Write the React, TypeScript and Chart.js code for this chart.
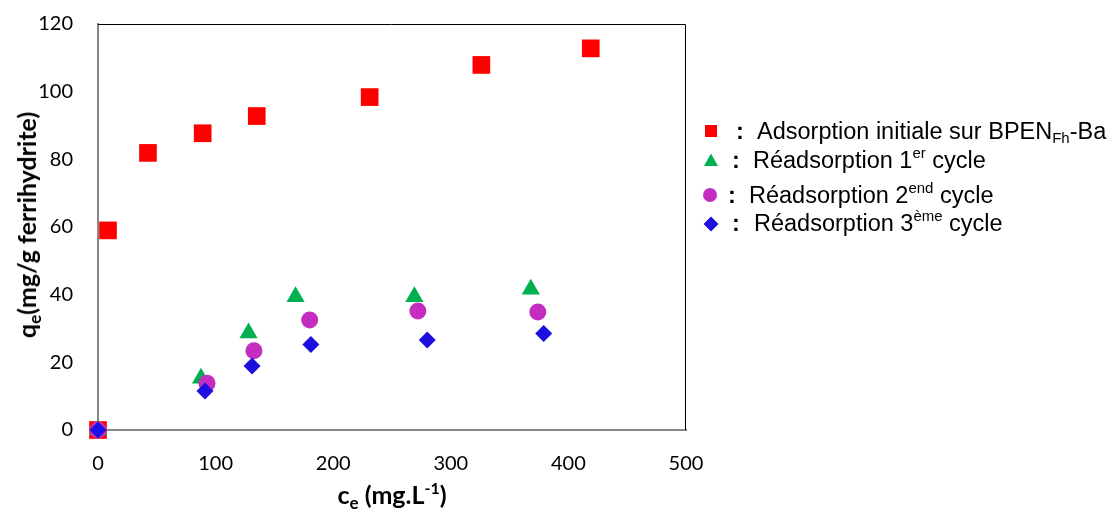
import React, { useEffect, useRef } from "react";
import { Chart, registerables } from "chart.js";

Chart.register(...registerables);

// ---- data ----
const xTickValues = [0, 100, 200, 300, 400, 500];
const yTickValues = [0, 20, 40, 60, 80, 100, 120];

const initialX = [0, 8.5, 42.5, 89, 135, 231, 326, 419];
const initialY = [0, 59.0, 81.9, 87.7, 92.8, 98.4, 107.9, 112.8];

const cycle1X = [0, 87.6, 128, 168, 269, 368];
const cycle1Y = [0, 15.3, 28.7, 39.4, 39.4, 41.6];

const cycle2X = [0, 92.7, 132.6, 180, 272, 374];
const cycle2Y = [0, 13.8, 23.4, 32.5, 35.2, 34.9];

const cycle3X = [0, 91, 131, 181, 280, 379];
const cycle3Y = [0, 11.5, 18.9, 25.3, 26.6, 28.5];

const RED = "#FF0000";
const GREEN = "#00B050";
const MAGENTA = "#C42DC0";
const BLUE = "#1E0FE1";

const toPoints = (xs: number[], ys: number[]) => xs.map((x, i) => ({ x, y: ys[i] }));

const AREA = { left: 98, right: 686, top: 24, bottom: 430 };

const frameBorder = {
  id: "frameBorder",
  beforeDatasetsDraw(chart: any) {
    const { ctx, chartArea } = chart;
    ctx.save();
    ctx.strokeStyle = "#000000";
    ctx.lineWidth = 1;
    ctx.beginPath();
    ctx.moveTo(chartArea.left, chartArea.top + 0.5);
    ctx.lineTo(chartArea.right - 0.5, chartArea.top + 0.5);
    ctx.lineTo(chartArea.right - 0.5, chartArea.bottom);
    ctx.stroke();
    ctx.restore();
  },
};

function Marker({ kind, color }: { kind: string; color: string }) {
  let shape: any = null;
  if (kind === "square") shape = <rect x={2} y={2} width={12} height={12} fill={color} />;
  if (kind === "triangle") shape = <polygon points="8,1.5 15,14 1,14" fill={color} />;
  if (kind === "circle") shape = <circle cx={8} cy={8} r={7} fill={color} />;
  if (kind === "diamond") shape = <polygon points="8,0.5 15.5,8 8,15.5 0.5,8" fill={color} />;
  return (
    <svg width={16} height={16} style={{ display: "block" }}>
      {shape}
    </svg>
  );
}

const legendFont = "'Liberation Sans', Arial, sans-serif";
const titleFont = "Lato, 'Open Sans', sans-serif";
const LEGEND_SIZE = 23.5;

function LegendRow({
  cy,
  markerX,
  markerY,
  kind,
  color,
  colonX,
  textX,
  children,
}: {
  cy: number;
  markerX: number;
  markerY: number;
  kind: string;
  color: string;
  colonX: number;
  textX: number;
  children: any;
}) {
  return (
    <>
      <div style={{ position: "absolute", left: markerX - 8, top: markerY - 8 }}>
        <Marker kind={kind} color={color} />
      </div>
      <div
        style={{
          position: "absolute",
          left: colonX,
          top: cy - 14,
          lineHeight: "28px",
          fontFamily: legendFont,
          fontSize: LEGEND_SIZE,
          fontWeight: "bold",
          color: "#000",
        }}
      >
        :
      </div>
      <div
        style={{
          position: "absolute",
          left: textX,
          top: cy - 14,
          lineHeight: "28px",
          fontFamily: legendFont,
          fontSize: LEGEND_SIZE,
          color: "#000",
          whiteSpace: "nowrap",
        }}
      >
        {children}
      </div>
    </>
  );
}

const supStyle: any = { fontSize: 15, verticalAlign: "10px", lineHeight: 0 };
const subStyle: any = { fontSize: 15, verticalAlign: "-4px", lineHeight: 0 };
const titleSubStyle: any = { fontSize: 17, verticalAlign: "-5px", lineHeight: 0 };
const titleSupStyle: any = { fontSize: 16, verticalAlign: "10px", lineHeight: 0 };

export default function App() {
  const canvasRef = useRef<HTMLCanvasElement | null>(null);

  useEffect(() => {
    document.body.style.margin = "0";
    const canvas = canvasRef.current;
    if (!canvas) return;
    const chart = new Chart(canvas, {
      type: "scatter",
      data: {
        datasets: [
          {
            label: "Réadsorption 3ème cycle",
            data: toPoints(cycle3X, cycle3Y),
            pointStyle: "rectRot",
            pointRadius: 8.5,
            backgroundColor: BLUE,
            borderColor: BLUE,
            borderWidth: 0,
            clip: false as any,
          },
          {
            label: "Réadsorption 2end cycle",
            data: toPoints(cycle2X, cycle2Y),
            pointStyle: "circle",
            pointRadius: 8.5,
            backgroundColor: MAGENTA,
            borderColor: MAGENTA,
            borderWidth: 0,
            clip: false as any,
          },
          {
            label: "Réadsorption 1er cycle",
            data: toPoints(cycle1X, cycle1Y),
            pointStyle: "triangle",
            pointRadius: 10.5,
            backgroundColor: GREEN,
            borderColor: GREEN,
            borderWidth: 0,
            clip: false as any,
          },
          {
            label: "Adsorption initiale sur BPENFh-Ba",
            data: toPoints(initialX, initialY),
            pointStyle: "rect",
            pointRadius: 12.5,
            backgroundColor: RED,
            borderColor: RED,
            borderWidth: 0,
            clip: false as any,
          },
        ],
      },
      options: {
        animation: false,
        responsive: false,
        devicePixelRatio: 1,
        layout: {
          padding: { left: 0, top: AREA.top, right: 1117 - AREA.right, bottom: 0 },
        },
        plugins: {
          legend: { display: false },
          tooltip: { enabled: false },
        },
        scales: {
          x: {
            type: "linear",
            min: 0,
            max: 500,
            afterBuildTicks: (scale: any) => {
              scale.ticks = xTickValues.map((v) => ({ value: v }));
            },
            afterFit: (scale: any) => {
              scale.height = 511 - AREA.bottom;
            },
            grid: {
              display: true,
              drawOnChartArea: false,
              drawTicks: true,
              tickLength: 22,
              tickColor: "rgba(0,0,0,0)",
            },
            border: { display: true, color: "#878787", width: 2 },
            ticks: {
              color: "#000",
              padding: 0,
              maxRotation: 0,
              font: { family: titleFont, size: 20 },
            },
          },
          y: {
            type: "linear",
            min: 0,
            max: 120,
            afterBuildTicks: (scale: any) => {
              scale.ticks = yTickValues.map((v) => ({ value: v }));
            },
            afterFit: (scale: any) => {
              scale.width = AREA.left;
            },
            grid: {
              display: true,
              drawOnChartArea: false,
              drawTicks: true,
              tickLength: 25,
              tickColor: "rgba(0,0,0,0)",
            },
            border: { display: true, color: "#878787", width: 2 },
            ticks: {
              color: "#000",
              padding: 0,
              font: { family: titleFont, size: 20 },
            },
          },
        },
      },
      plugins: [frameBorder],
    } as any);
    return () => chart.destroy();
  }, []);

  return (
    <div style={{ position: "relative", width: 1117, height: 511, background: "#fff", overflow: "hidden" }}>
      <canvas ref={canvasRef} width={1117} height={511} style={{ display: "block", width: 1117, height: 511 }} />

      {/* Y axis title */}
      <div
        style={{
          position: "absolute",
          left: 26,
          top: 225,
          transform: "translate(-50%, -50%) rotate(-90deg)",
          fontFamily: titleFont,
          fontWeight: "bold",
          fontSize: 25,
          whiteSpace: "nowrap",
          color: "#000",
          lineHeight: "28px",
        }}
      >
        q<span style={titleSubStyle}>e</span>(mg/g ferrihydrite)
      </div>

      {/* X axis title */}
      <div
        style={{
          position: "absolute",
          left: 392,
          top: 494,
          transform: "translate(-50%, -50%)",
          fontFamily: titleFont,
          fontWeight: "bold",
          fontSize: 25,
          whiteSpace: "nowrap",
          color: "#000",
          lineHeight: "28px",
        }}
      >
        c<span style={titleSubStyle}>e</span> (mg.L<span style={titleSupStyle}>-1</span>)
      </div>

      {/* Legend */}
      <LegendRow cy={131} markerX={711} markerY={131} kind="square" color={RED} colonX={736} textX={757}>
        Adsorption initiale sur BPEN<span style={subStyle}>Fh</span>-Ba
      </LegendRow>
      <LegendRow cy={160} markerX={711} markerY={160} kind="triangle" color={GREEN} colonX={732} textX={753}>
        Réadsorption 1<span style={supStyle}>er</span> cycle
      </LegendRow>
      <LegendRow cy={195} markerX={710} markerY={195} kind="circle" color={MAGENTA} colonX={728} textX={749}>
        Réadsorption 2<span style={supStyle}>end</span> cycle
      </LegendRow>
      <LegendRow cy={223} markerX={711} markerY={224} kind="diamond" color={BLUE} colonX={732} textX={754}>
        Réadsorption 3<span style={supStyle}>ème</span> cycle
      </LegendRow>
    </div>
  );
}
